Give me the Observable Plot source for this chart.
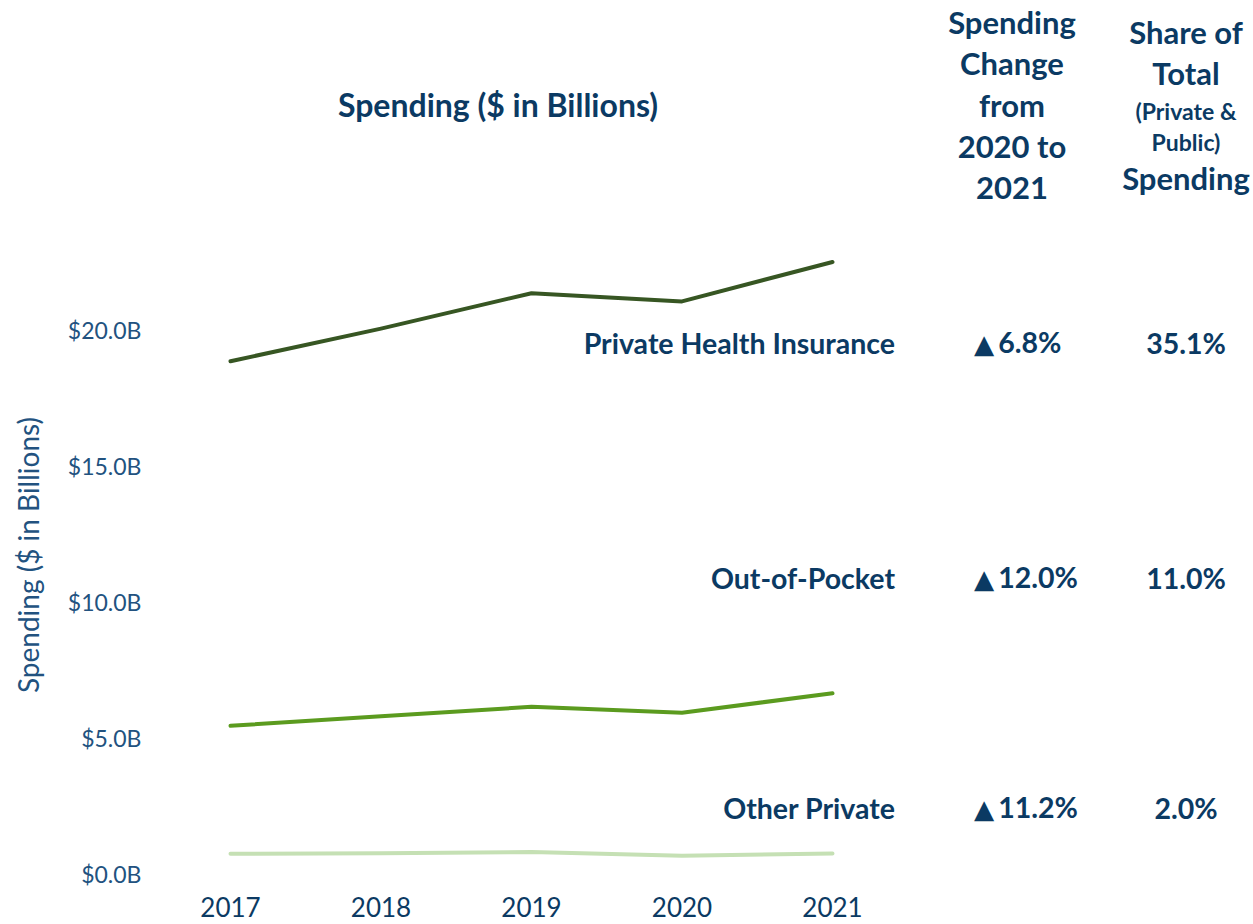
<!DOCTYPE html>
<html>
<head>
<meta charset="utf-8">
<script src="https://cdn.jsdelivr.net/npm/d3@7"></script>
<script src="https://cdn.jsdelivr.net/npm/@observablehq/plot@0.6"></script>
<style>
  html, body { margin: 0; padding: 0; background: #ffffff; }
  #wrap { position: relative; width: 1253px; height: 924px; overflow: hidden; font-family: Lato, "Open Sans", sans-serif; }
  #wrap svg { position: absolute; left: 0; top: 0; }
  .t { position: absolute; white-space: nowrap; line-height: 1; color: #0b3a63; font-weight: 700; }
  .c { transform: translate(-50%, -50%); text-align: center; }
  .r { transform: translate(-100%, -50%); text-align: right; }
  .l { transform: translate(0, -50%); text-align: left; }
  .tri { font-family: "DejaVu Sans", sans-serif; font-size: 0.92em; margin-right: 4px; }
</style>
</head>
<body>
<div id="wrap"></div>
<script>
// ---- data ----
const years = [2017, 2018, 2019, 2020, 2021];
const seriesNames = ["Private Health Insurance", "Out-of-Pocket", "Other Private"];
const privateHealthInsurance = [18.9, 20.1, 21.4, 21.1, 22.55];
const outOfPocket = [5.5, 5.85, 6.2, 5.98, 6.7];
const otherPrivate = [0.8, 0.82, 0.86, 0.73, 0.81];
const changeValues = ["6.8%", "12.0%", "11.2%"];
const shareLabels = ["35.1%", "11.0%", "2.0%"];
const yTicks = [0, 5, 10, 15, 20];
const seriesColors = ["#375623", "#5b9b1f", "#c5e0b4"];

const seriesValues = [privateHealthInsurance, outOfPocket, otherPrivate];
const rows = [];
seriesNames.forEach((s, i) => years.forEach((yr, j) => rows.push({series: s, year: yr, value: seriesValues[i][j]})));

const navy = "#0b3a63";
const tickBlue = "#22527f";

const chart = Plot.plot({
  width: 1253,
  height: 924,
  marginLeft: 230,
  marginRight: 421,
  marginTop: 222,
  marginBottom: 49,
  style: {fontFamily: "Lato, 'Open Sans', sans-serif", background: "transparent"},
  x: {domain: [2017, 2021]},
  y: {domain: [0, 24]},
  color: {domain: seriesNames, range: seriesColors},
  marks: [
    Plot.axisY({ticks: yTicks, tickFormat: d => `$${d.toFixed(1)}B`, tickSize: 0, tickPadding: 89, fontSize: 23, fill: tickBlue, label: null}),
    Plot.axisX({ticks: years, tickFormat: d => String(d), tickSize: 0, tickPadding: 23, fontSize: 26, fill: navy, label: null}),
    Plot.line(rows, {x: "year", y: "value", z: "series", stroke: "series", strokeWidth: 4, strokeLinejoin: "round", strokeLinecap: "round"})
  ]
});

const wrap = document.getElementById("wrap");
wrap.appendChild(chart);

function addText(txt, x, y, cls, size, extra) {
  const d = document.createElement("div");
  d.className = "t " + cls;
  d.textContent = txt;
  d.style.left = x + "px";
  d.style.top = y + "px";
  d.style.fontSize = size + "px";
  if (extra) Object.assign(d.style, extra);
  wrap.appendChild(d);
  return d;
}

// chart header
addText("Spending ($ in Billions)", 498, 105, "c", 32);

// y-axis title (rotated)
addText("Spending ($ in Billions)", 28, 555, "c", 28, {fontWeight: "400", color: tickBlue, transform: "translate(-50%, -50%) rotate(-90deg)"});

// column headers
const col1 = ["Spending", "Change", "from", "2020 to", "2021"];
const col1Y = [22, 63, 105, 146, 187];
col1.forEach((t, i) => addText(t, 1012, col1Y[i], "c", 31));
const col2 = ["Share of", "Total", "(Private &", "Public)", "Spending"];
const col2Y = [32, 73, 111, 142, 178];
const col2S = [31, 31, 23, 23, 31];
col2.forEach((t, i) => addText(t, 1186, col2Y[i], "c", col2S[i]));

// table rows
const rowY = [343, 578, 808];
seriesNames.forEach((s, i) => {
  addText(s, 895, rowY[i], "r", 28.5);
  const ch = addText("", 974, rowY[i], "l", 28.5);
  const tri = document.createElement("span");
  tri.className = "tri";
  tri.textContent = "▲";
  ch.appendChild(tri);
  ch.appendChild(document.createTextNode(changeValues[i]));
  addText(shareLabels[i], 1186, rowY[i], "c", 28.5);
});
</script>
</body>
</html>
